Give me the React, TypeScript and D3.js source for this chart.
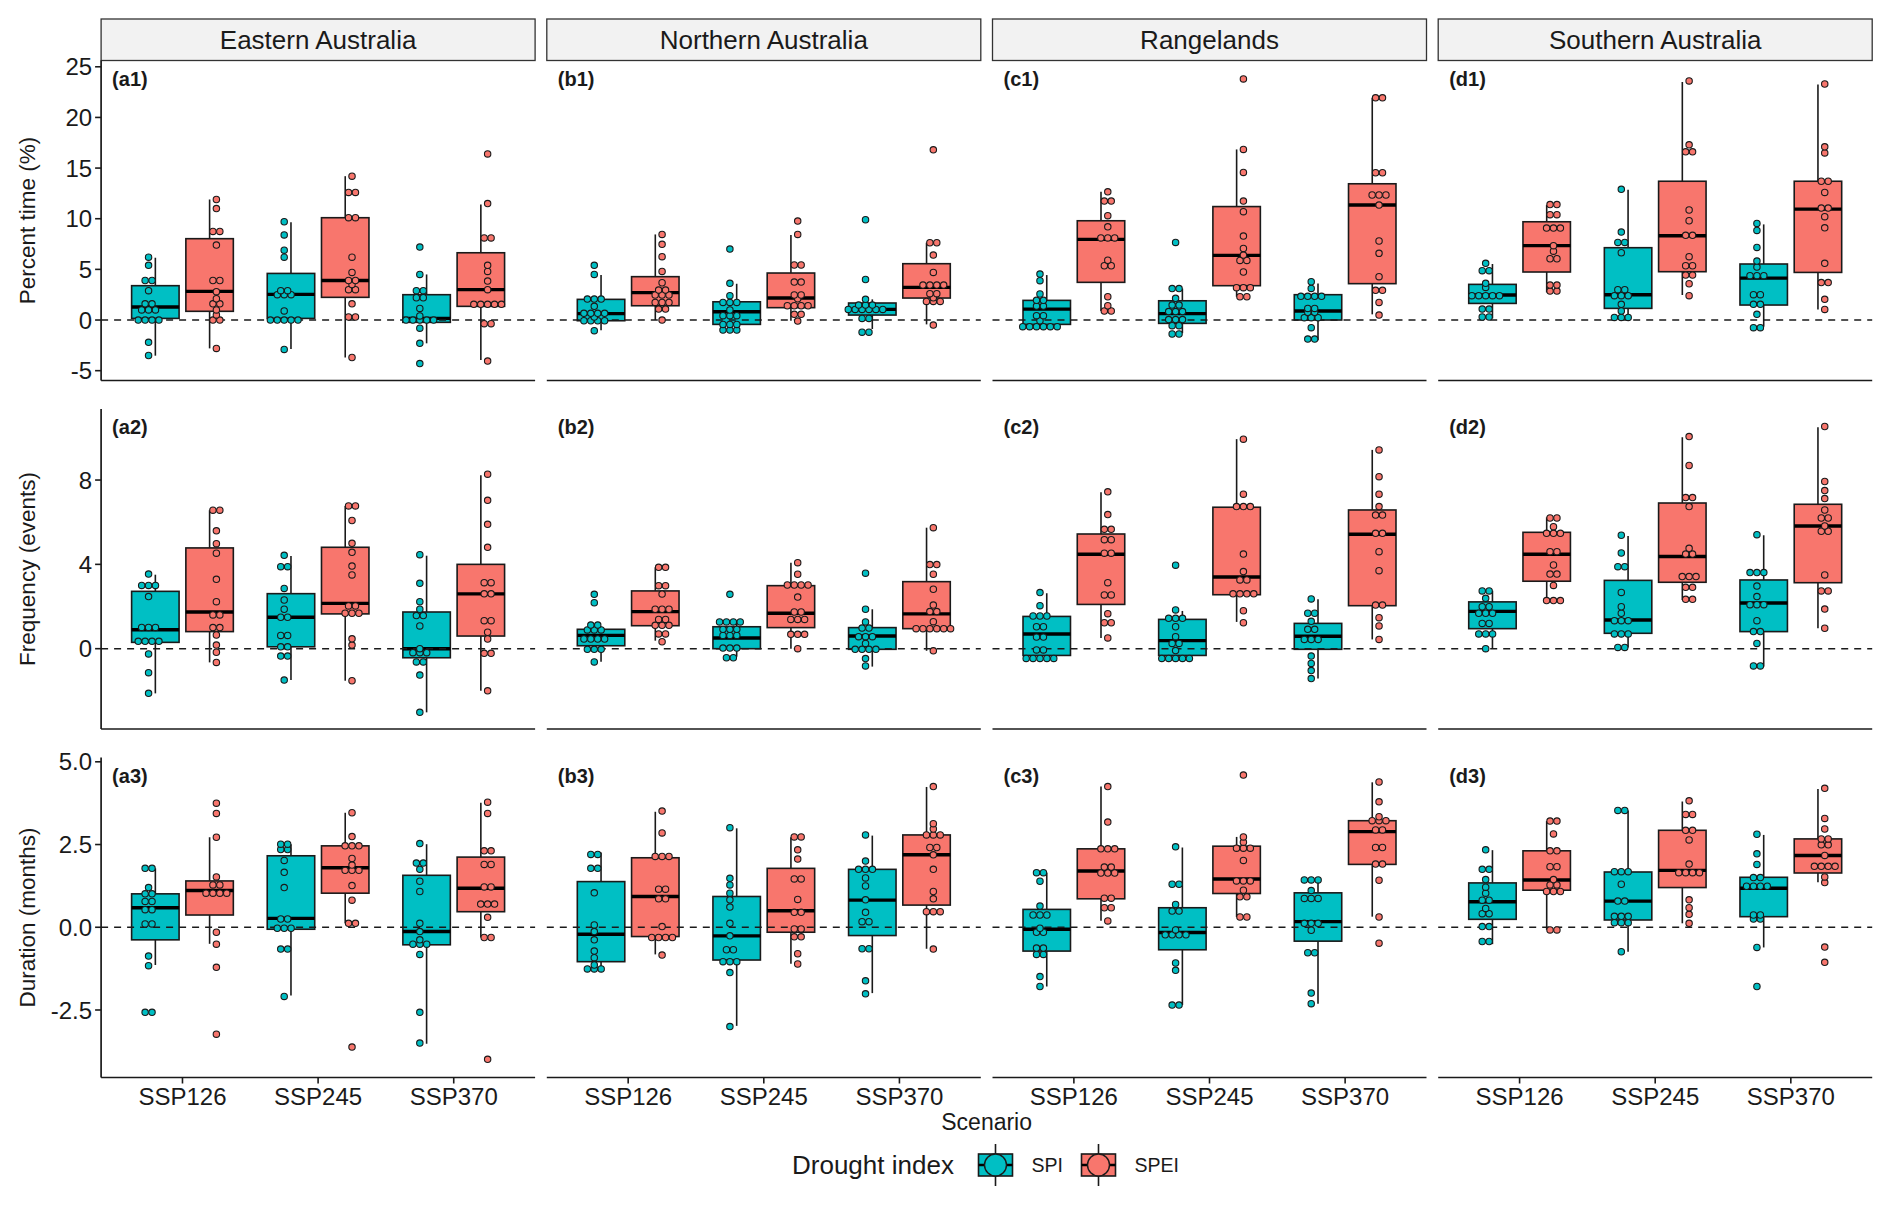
import * as React from 'react';
import * as d3 from 'd3';

const regions = ['Eastern Australia', 'Northern Australia', 'Rangelands', 'Southern Australia'];
const scenarios = ['SSP126', 'SSP245', 'SSP370'];
const droughtIndices = ['SPI', 'SPEI'];
const indexColours = ['#00BFC4', '#F8766D'];
const metricTitles = ['Percent time (%)', 'Frequency (events)', 'Duration (months)'];
const rowTicks = [[-5, 0, 5, 10, 15, 20, 25], [0, 4, 8], [-2.5, 0, 2.5, 5]];
const rowDomains = [[-5.97, 25.62], [-3.81, 11.37], [-4.54, 5.13]];

// box stats per panel: [lower whisker, q1, median, q3, upper whisker]
// order: SSP126 SPI, SSP126 SPEI, SSP245 SPI, SSP245 SPEI, SSP370 SPI, SSP370 SPEI
const a1Boxes = [[-3.52, 0.16, 1.28, 3.39, 6.15], [-2.8, 0.86, 2.83, 8.03, 11.9], [-2.86, 0.16, 2.53, 4.6, 9.64], [-3.7, 2.24, 3.9, 10.1, 14.2], [-2.3, -0.23, 0.16, 2.5, 4.5], [-3.95, 1.35, 3.0, 6.64, 11.4]];
const b1Boxes = [[-1.0, -0.07, 0.63, 2.04, 4.44], [0, 1.41, 2.7, 4.28, 8.45], [-1.0, -0.43, 0.82, 1.8, 3.58], [-0.07, 1.22, 2.17, 4.64, 8.4], [-0.89, 0.49, 1.05, 1.68, 2.04], [-0.43, 2.17, 3.22, 5.56, 7.63]];
const c1Boxes = [[-0.66, -0.43, 1.08, 1.94, 4.44], [0.89, 3.72, 7.96, 9.8, 12.66], [-1.3, -0.33, 0.63, 1.9, 3.1], [2.3, 3.39, 6.38, 11.2, 16.84], [-2.0, 0, 0.89, 2.5, 3.6], [0.56, 3.59, 11.35, 13.45, 21.94]];
const d1Boxes = [[0.16, 1.64, 2.47, 3.52, 5.53], [2.73, 4.74, 7.34, 9.7, 11.35], [0.16, 1.15, 2.5, 7.14, 12.86], [2.47, 4.77, 8.32, 13.7, 23.5], [-0.66, 1.48, 4.14, 5.53, 9.44], [1.05, 4.7, 10.95, 13.7, 23.26]];

const a2Boxes = [[-2.12, 0.3, 0.9, 2.72, 3.51], [-0.65, 0.81, 1.74, 4.78, 6.57], [-1.49, 0.09, 1.49, 2.61, 4.4], [-1.52, 1.65, 2.15, 4.81, 6.77], [-3.02, -0.43, 0, 1.74, 4.41], [-2.0, 0.6, 2.6, 4.0, 8.23]];
const b2Boxes = [[-0.62, 0.14, 0.63, 0.92, 1.04], [0.38, 1.09, 1.76, 2.74, 3.86], [-0.38, 0, 0.51, 1.04, 1.23], [0, 1.0, 1.68, 2.99, 4.08], [-0.85, -0.03, 0.6, 1.0, 1.87], [-0.1, 0.95, 1.65, 3.18, 5.74]];
const c2Boxes = [[-0.47, -0.32, 0.7, 1.53, 2.63], [0.51, 2.1, 4.48, 5.44, 7.42], [-0.47, -0.32, 0.38, 1.39, 1.79], [1.27, 2.56, 3.4, 6.71, 9.94], [-1.41, -0.03, 0.59, 1.2, 2.34], [0.44, 2.04, 5.43, 6.58, 9.43]];
const d2Boxes = [[0, 0.95, 1.77, 2.22, 2.75], [2.26, 3.2, 4.48, 5.52, 6.23], [0.06, 0.73, 1.36, 3.24, 5.35], [2.31, 3.15, 4.37, 6.91, 10.03], [-0.85, 0.81, 2.17, 3.26, 5.38], [0.97, 3.13, 5.82, 6.85, 10.5]];

const a3Boxes = [[-1.14, -0.38, 0.59, 1.01, 1.78], [-0.5, 0.37, 1.11, 1.4, 2.72], [-2.06, -0.06, 0.27, 2.16, 2.51], [0.12, 1.03, 1.8, 2.46, 3.46], [-3.52, -0.53, -0.13, 1.57, 2.51], [-0.31, 0.47, 1.18, 2.12, 3.76]];
const b3Boxes = [[-1.24, -1.04, -0.21, 1.38, 2.26], [-0.82, -0.28, 0.93, 2.1, 3.49], [-2.98, -0.99, -0.26, 0.93, 2.99], [-1.1, -0.15, 0.5, 1.78, 2.72], [-1.99, -0.25, 0.82, 1.75, 2.77], [-0.65, 0.67, 2.19, 2.79, 4.24]];
const c3Boxes = [[-1.79, -0.72, -0.06, 0.54, 1.65], [0.2, 0.86, 1.7, 2.37, 4.25], [-2.35, -0.68, -0.16, 0.59, 2.41], [0.31, 1.02, 1.46, 2.45, 2.73], [-2.31, -0.42, 0.17, 1.04, 1.43], [0.32, 1.9, 2.89, 3.22, 4.38]];
const d3Boxes = [[-0.51, 0.24, 0.77, 1.34, 2.33], [-0.08, 1.12, 1.43, 2.31, 3.21], [-0.74, 0.22, 0.79, 1.67, 3.53], [0.12, 1.2, 1.72, 2.93, 3.8], [-0.61, 0.32, 1.18, 1.51, 2.79], [1.36, 1.64, 2.17, 2.67, 4.18]];

// model values (dots), same order as the boxes
const a1Points = [
  [6.2, 5.4, 3.9, 3.9, 2.9, 1.6, 1.6, 1.0, 1.0, 1.0, 0, 0, 0, 0, -2.2, -3.5],
  [11.9, 11.0, 8.75, 8.75, 7.4, 3.9, 3.9, 2.8, 2.1, 1.6, 1.6, 1.0, 0.5, 0, 0, -2.8],
  [9.7, 8.4, 6.9, 6.2, 2.9, 2.9, 2.5, 2.5, 2.5, 0.9, 0, 0, 0, 0, 0, -2.9],
  [14.2, 12.6, 12.6, 10.1, 10.1, 6.2, 4.7, 3.9, 3.9, 3.5, 3.0, 3.0, 1.6, 0.3, 0.3, -3.7],
  [7.2, 4.5, 2.9, 2.9, 2.2, 2.2, 1.15, 0.4, 0, 0, 0, 0, 0, -0.8, -2.3, -4.3],
  [16.4, 11.5, 8.1, 8.1, 5.4, 4.8, 3.85, 3.0, 1.6, 1.6, 1.6, 1.6, 1.5, -0.36, -0.36, -4.05],
];
const b1Points = [
  [5.4, 4.5, 2.07, 2.07, 2.07, 1.35, 0.66, 0.66, 0.66, 0.66, 0.3, -0.07, -0.07, -0.07, -0.07, -1.05],
  [8.45, 7.47, 6.25, 4.8, 3.68, 2.96, 2.96, 2.47, 2.47, 2.47, 1.74, 1.74, 1.74, 1.08, 1.08, 0],
  [7.0, 3.62, 2.4, 1.74, 1.74, 1.74, 0.99, 0.56, 0.56, 0.3, -0.43, -0.43, -0.43, -0.99, -0.99, -0.99],
  [9.77, 8.45, 5.43, 5.43, 3.75, 3.75, 2.47, 2.47, 2.1, 1.41, 1.41, 1.41, 1.41, 0.56, 0.56, -0.1],
  [9.9, 4.0, 2.04, 1.48, 1.48, 1.48, 1.2, 0.89, 0.89, 0.89, 0.89, 0.89, 0.16, 0.16, -1.2, -1.2],
  [16.8, 7.63, 7.63, 6.41, 4.7, 3.45, 3.45, 3.45, 3.45, 2.6, 2.6, 2.2, 1.84, 1.84, 1.84, -0.5],
];
const c1Points = [
  [4.54, 3.88, 2.57, 1.94, 1.94, 1.38, 1.38, 0.43, 0.43, -0.07, -0.66, -0.66, -0.66, -0.66, -0.66, -0.66],
  [12.66, 11.74, 11.74, 10.3, 9.2, 8.1, 8.1, 8.1, 5.9, 5.36, 5.36, 2.3, 1.41, 0.89, 0.89],
  [7.66, 3.1, 3.1, 2.14, 1.48, 1.48, 1.0, 0.66, 0.66, 0.16, -0.07, -0.07, -0.56, -0.56, -1.38, -1.38],
  [23.8, 16.84, 14.57, 11.74, 10.7, 8.29, 7.07, 6.41, 6.0, 5.76, 4.74, 3.19, 3.19, 3.19, 2.3, 2.3],
  [3.78, 3.12, 2.34, 2.34, 2.34, 2.34, 1.15, 1.15, 0.76, 0.76, 0.23, 0.23, 0.23, -0.76, -1.88, -1.88],
  [21.94, 21.94, 14.54, 14.54, 12.34, 12.34, 12.34, 11.35, 7.8, 6.58, 4.28, 2.93, 2.93, 1.74, 0.49],
];
const d1Points = [
  [5.6, 4.87, 4.87, 3.62, 3.22, 2.4, 2.4, 2.4, 2.4, 2.4, 1.08, 1.08, 0.3, 0.3],
  [11.4, 11.4, 10.4, 10.4, 9.08, 9.08, 9.08, 7.34, 6.8, 6.05, 6.05, 3.45, 3.45, 2.86, 2.86],
  [12.9, 8.68, 7.66, 7.66, 6.64, 3.0, 3.0, 2.4, 2.4, 2.4, 1.55, 0.89, 0.26, 0.26, 0.26],
  [23.6, 17.3, 16.6, 16.6, 10.86, 9.8, 8.36, 8.36, 6.25, 5.36, 5.36, 4.44, 4.44, 3.58, 2.4],
  [9.54, 8.85, 7.17, 5.82, 5.23, 4.38, 4.38, 4.38, 2.5, 2.5, 1.55, 1.55, 0.56, -0.76, -0.76],
  [23.3, 17.1, 16.5, 13.7, 13.7, 12.6, 11.05, 11.05, 10.2, 9.1, 5.6, 3.7, 3.7, 2.04, 1.05],
];

const a2Points = [
  [3.54, 3.0, 3.0, 3.0, 2.47, 1.01, 1.01, 1.01, 0.35, 0.35, 0.35, 0.35, -0.25, -1.14, -2.12],
  [6.57, 6.57, 5.59, 4.98, 4.53, 3.29, 2.23, 1.6, 1.6, 1.0, 1.0, 0.65, 0.17, -0.17, -0.65],
  [4.43, 3.89, 3.89, 2.86, 2.31, 1.87, 1.49, 1.49, 0.63, 0.63, 0.09, 0.09, -0.35, -0.35, -1.49],
  [6.77, 6.77, 6.08, 5.0, 4.57, 3.92, 3.5, 2.03, 2.03, 1.68, 1.68, 1.68, 0.47, 0.17, -1.52],
  [4.46, 3.1, 2.23, 1.87, 1.57, 1.57, 1.08, 0, -0.19, -0.19, -0.19, -0.63, -0.63, -1.25, -3.02],
  [8.28, 7.04, 5.9, 4.81, 3.13, 3.13, 2.6, 2.6, 1.33, 1.33, 0.78, 0.46, -0.22, -0.22, -2.0],
];
const b2Points = [
  [2.58, 2.18, 1.12, 1.12, 0.89, 0.89, 0.89, 0.46, 0.46, 0.46, 0.46, -0.03, -0.03, -0.03, -0.63],
  [3.86, 3.86, 2.99, 2.99, 2.59, 1.87, 1.87, 1.87, 1.39, 1.39, 1.11, 1.11, 1.11, 0.7, 0.7, 0.33],
  [2.58, 1.27, 1.27, 1.27, 1.27, 0.92, 0.92, 0.92, 0.63, 0.63, 0.63, 0.03, 0.03, 0.03, -0.43, -0.43],
  [4.08, 3.53, 3.02, 3.02, 3.02, 3.02, 2.45, 1.74, 1.74, 1.39, 1.39, 1.39, 0.68, 0.68, 0.68, 0],
  [3.58, 1.87, 1.27, 0.98, 0.98, 0.57, 0.57, 0.57, 0.25, -0.03, -0.03, -0.03, -0.03, -0.47, -0.82],
  [5.74, 3.99, 3.99, 3.53, 2.82, 2.07, 1.76, 1.76, 1.28, 0.95, 0.95, 0.95, 0.95, 0.95, 0.95, -0.1],
];
const c2Points = [
  [2.66, 2.04, 1.55, 1.55, 1.55, 1.04, 1.04, 0.55, 0.55, -0.06, -0.06, -0.46, -0.46, -0.46, -0.46, -0.46],
  [7.44, 6.36, 5.66, 5.66, 5.17, 5.17, 4.53, 4.53, 3.13, 2.55, 2.55, 1.66, 1.23, 1.23, 0.51],
  [3.96, 1.84, 1.44, 1.44, 1.44, 1.04, 0.57, 0.25, 0.25, -0.09, -0.46, -0.46, -0.46, -0.46, -0.46],
  [9.94, 7.33, 6.74, 6.74, 6.74, 4.49, 3.66, 3.26, 3.26, 2.6, 2.6, 2.6, 2.6, 1.8, 1.23],
  [2.36, 1.68, 1.68, 1.3, 0.92, 0.92, 0.44, 0.44, 0.44, -0.35, -0.7, -1.04, -1.42],
  [9.43, 8.16, 7.33, 6.74, 6.34, 6.34, 5.47, 5.47, 4.6, 3.7, 2.07, 2.07, 1.47, 1.08, 0.44],
];
const d2Points = [
  [2.74, 2.74, 2.39, 1.99, 1.99, 1.68, 1.68, 1.68, 1.2, 1.2, 0.7, 0.7, 0.7, 0],
  [6.2, 6.2, 5.79, 5.47, 5.47, 5.47, 4.6, 4.6, 3.97, 3.54, 3.54, 3.0, 2.28, 2.28, 2.28],
  [5.38, 4.54, 3.89, 3.89, 2.67, 1.99, 1.68, 1.33, 1.33, 1.33, 0.7, 0.7, 0.7, 0.06, 0.06],
  [10.06, 8.69, 7.17, 7.17, 6.74, 4.76, 4.49, 4.49, 3.42, 3.42, 3.42, 2.91, 2.91, 2.34, 2.34],
  [5.41, 3.61, 3.61, 3.61, 2.97, 2.47, 2.09, 2.09, 2.09, 1.33, 0.81, 0.81, 0.25, -0.82, -0.82],
  [10.54, 7.93, 7.5, 7.12, 6.58, 6.2, 6.2, 5.82, 5.57, 5.57, 3.5, 2.74, 2.74, 1.88, 0.97],
];

const a3Points = [
  [1.78, 1.78, 1.2, 1.01, 1.01, 0.78, 0.78, 0.53, 0.53, 0.1, 0.1, -0.87, -1.16, -2.57, -2.57],
  [3.75, 3.44, 2.72, 1.52, 1.28, 1.28, 1.03, 1.03, 1.03, 1.03, -0.15, -0.51, -1.21, -3.23],
  [2.51, 2.51, 2.35, 2.35, 2.02, 1.66, 1.2, 0.25, 0.25, -0.03, -0.03, -0.03, -0.66, -0.66, -2.09],
  [3.46, 2.74, 2.46, 2.46, 2.46, 2.08, 1.88, 1.72, 1.72, 1.72, 1.26, 0.82, 0.12, 0.12, -3.62],
  [2.53, 1.94, 1.94, 1.75, 1.39, 1.08, 0.12, -0.13, -0.38, -0.51, -0.51, -0.51, -0.82, -2.57, -3.5],
  [3.78, 3.44, 2.31, 2.31, 1.9, 1.9, 1.22, 1.22, 0.7, 0.7, 0.7, 0.3, -0.31, -0.31, -3.99],
];
const b3Points = [
  [2.2, 2.2, 1.78, 1.78, 1.04, 0.07, -0.13, -0.38, -0.72, -0.92, -1.14, -1.26, -1.26, -1.26],
  [3.51, 2.85, 2.14, 2.14, 2.14, 1.15, 1.15, 0.86, 0.86, 0.02, -0.31, -0.31, -0.31, -0.31, -0.84],
  [3.01, 1.48, 1.28, 1.03, 0.83, 0.61, 0.12, -0.26, -0.68, -0.68, -0.99, -1.09, -1.09, -1.37, -3.0],
  [2.73, 2.73, 2.34, 2.06, 1.46, 1.46, 0.84, 0.45, 0.45, -0.05, -0.05, -0.29, -0.29, -0.8, -1.11],
  [2.79, 2.0, 1.75, 1.75, 1.75, 1.49, 1.25, 0.83, 0.45, 0.17, 0.17, -0.65, -0.65, -1.62, -2.01],
  [4.25, 3.13, 2.97, 2.79, 2.79, 2.79, 2.41, 2.41, 2.19, 1.75, 1.08, 0.86, 0.47, 0.47, 0.47, -0.66],
];
const c3Points = [
  [1.65, 1.65, 1.39, 0.64, 0.37, 0.37, 0.37, -0.03, -0.15, -0.15, -0.63, -0.63, -0.82, -0.82, -1.49, -1.79],
  [4.25, 3.18, 2.37, 2.37, 2.37, 1.82, 1.82, 1.64, 1.64, 1.64, 0.88, 0.88, 0.59, 0.59, 0.19],
  [2.43, 1.3, 1.3, 0.69, 0.49, 0.49, -0.08, -0.23, -0.23, -0.23, -0.23, -1.08, -1.3, -2.35, -2.35],
  [4.6, 2.73, 2.57, 2.39, 2.39, 2.39, 2.02, 1.4, 1.4, 1.4, 1.12, 0.92, 0.92, 0.31, 0.31],
  [1.43, 1.43, 1.43, 1.11, 0.87, 0.87, 0.87, 0.12, 0.12, 0.12, -0.09, -0.77, -0.77, -1.99, -2.31],
  [4.39, 3.79, 3.34, 3.22, 3.22, 3.22, 2.94, 2.94, 2.41, 2.41, 1.91, 1.91, 1.42, 0.31, -0.48],
];
const d3Points = [
  [2.34, 1.75, 1.75, 1.44, 1.21, 1.03, 0.82, 0.82, 0.57, 0.41, 0.41, 0.02, 0.02, -0.43, -0.43],
  [3.21, 3.21, 2.82, 2.31, 2.31, 1.83, 1.83, 1.44, 1.28, 1.28, 1.08, 1.08, 1.08, -0.08, -0.08],
  [3.53, 3.53, 1.68, 1.68, 1.68, 1.3, 0.79, 0.79, 0.33, 0.33, 0.33, 0.14, 0.14, 0.14, -0.74],
  [3.82, 3.41, 3.41, 2.93, 2.93, 2.64, 1.91, 1.65, 1.65, 1.65, 1.65, 0.83, 0.59, 0.39, 0.12],
  [2.81, 2.22, 1.9, 1.5, 1.5, 1.24, 1.24, 1.24, 1.24, 0.37, 0.37, 0.25, 0.25, -0.61, -1.79],
  [4.2, 3.29, 2.97, 2.67, 2.67, 2.49, 2.49, 2.17, 1.84, 1.84, 1.84, 1.84, 1.52, 1.35, -0.6, -1.06],
];

const boxRows = [[a1Boxes, b1Boxes, c1Boxes, d1Boxes], [a2Boxes, b2Boxes, c2Boxes, d2Boxes], [a3Boxes, b3Boxes, c3Boxes, d3Boxes]];
const pointRows = [[a1Points, b1Points, c1Points, d1Points], [a2Points, b2Points, c2Points, d2Points], [a3Points, b3Points, c3Points, d3Points]];

const W = 1892;
const H = 1206;
const panelLeft0 = 101.1;
const panelStep = 445.7;
const panelW = 434;
const rowTop0 = 60.5;
const rowStep = 348.5;
const panelH = 320;
const font = 'Liberation Sans, Arial, sans-serif';
const ink = '#1a1a1a';

// dotdensity-like binning along y, dots in a bin are stacked side by side
function binDots(values: number[], width: number) {
  const sorted = [...values].sort((a, b) => a - b);
  const bins: { y: number; n: number }[] = [];
  let i = 0;
  while (i < sorted.length) {
    let j = i;
    while (j < sorted.length && sorted[j] - sorted[i] < width) j++;
    bins.push({ y: (sorted[i] + sorted[j - 1]) / 2, n: j - i });
    i = j;
  }
  return bins;
}

function Panel({ row, col }: { row: number; col: number }) {
  const left = panelLeft0 + col * panelStep;
  const top = rowTop0 + row * rowStep;
  const x = d3.scalePoint<string>().domain(scenarios).range([left, left + panelW]).padding(0.6);
  const step = x.step();
  const y = d3.scaleLinear().domain(rowDomains[row]).range([top + panelH, top]);
  const binW = Math.abs(y.invert(0) - y.invert(3.5));
  const boxes = boxRows[row][col];
  const points = pointRows[row][col];
  const halfBox = 0.175 * step;
  const baseFmt = row === 2 ? d3.format('.1f') : d3.format('d');
  const fmt = (v: number) => baseFmt(v).replace('\u2212', '-');

  return (
    <g>
      {row === 0 && (
        <g>
          <rect x={left} y={19} width={panelW} height={41.5} fill="#F2F2F2" stroke="#333" strokeWidth={1.3} />
          <text x={left + panelW / 2} y={49} textAnchor="middle" fontSize={26} fontFamily={font} fill={ink}>
            {regions[col]}
          </text>
        </g>
      )}
      {/* boxes */}
      {boxes.map((b, k) => {
        const s = Math.floor(k / 2);
        const ix = k % 2;
        const cx = (x(scenarios[s]) as number) + (ix === 0 ? -0.2 : 0.2) * step;
        const [lo, q1, med, q3, hi] = b;
        return (
          <g key={k}>
            <line x1={cx} x2={cx} y1={y(q3)} y2={y(hi)} stroke={ink} strokeWidth={1.6} />
            <line x1={cx} x2={cx} y1={y(q1)} y2={y(lo)} stroke={ink} strokeWidth={1.6} />
            <rect x={cx - halfBox} y={y(q3)} width={2 * halfBox} height={y(q1) - y(q3)}
              fill={indexColours[ix]} stroke={ink} strokeWidth={1.6} />
            <line x1={cx - halfBox} x2={cx + halfBox} y1={y(med)} y2={y(med)} stroke="#000" strokeWidth={3.4} />
          </g>
        );
      })}
      <line x1={left} x2={left + panelW} y1={y(0)} y2={y(0)} stroke={ink} strokeWidth={1.5} strokeDasharray="7,6" />
      {/* dots */}
      {points.map((vals, k) => {
        const s = Math.floor(k / 2);
        const ix = k % 2;
        const cx = (x(scenarios[s]) as number) + (ix === 0 ? -0.25 : 0.25) * step;
        return binDots(vals, binW).map((bin, bi) =>
          d3.range(bin.n).map((m) => (
            <circle key={`${k}-${bi}-${m}`} cx={cx + (m - (bin.n - 1) / 2) * 6.9} cy={y(bin.y)} r={3.2}
              fill={indexColours[ix]} stroke={ink} strokeWidth={1.1} />
          ))
        );
      })}
      {/* tag */}
      <text x={left + 11} y={top + 25} fontSize={20} fontWeight="bold" fontFamily={font} fill={ink}>
        {`(${'abcd'[col]}${row + 1})`}
      </text>
      {/* bottom axis */}
      <line x1={left} x2={left + panelW} y1={top + panelH} y2={top + panelH} stroke={ink} strokeWidth={1.7} />
      {row === 2 && scenarios.map((sc) => (
        <g key={sc}>
          <line x1={x(sc)} x2={x(sc)} y1={top + panelH} y2={top + panelH + 6} stroke={ink} strokeWidth={1.6} />
          <text x={x(sc)} y={top + panelH + 27} textAnchor="middle" fontSize={24} fontFamily={font} fill={ink}>{sc}</text>
        </g>
      ))}
      {/* left axis */}
      {col === 0 && (
        <g>
          <line x1={left} x2={left} y1={top} y2={top + panelH} stroke={ink} strokeWidth={1.7} />
          {rowTicks[row].map((t) => (
            <g key={t}>
              <line x1={left - 6} x2={left} y1={y(t)} y2={y(t)} stroke={ink} strokeWidth={1.6} />
              <text x={left - 9} y={y(t)} dy="0.36em" textAnchor="end" fontSize={24} fontFamily={font} fill={ink}>
                {fmt(t)}
              </text>
            </g>
          ))}
          <text transform={`translate(27,${top + panelH / 2}) rotate(-90)`} textAnchor="middle" dy="0.36em"
            fontSize={22.5} fontFamily={font} fill={ink}>
            {metricTitles[row]}
          </text>
        </g>
      )}
    </g>
  );
}

function LegendKey({ cx, cy, colour }: { cx: number; cy: number; colour: string }) {
  return (
    <g>
      <line x1={cx} x2={cx} y1={cy - 21} y2={cy + 21} stroke={ink} strokeWidth={1.6} />
      <rect x={cx - 17} y={cy - 11} width={34} height={22} fill={colour} stroke={ink} strokeWidth={1.6} />
      <line x1={cx - 17} x2={cx + 17} y1={cy} y2={cy} stroke="#000" strokeWidth={2.5} />
      <circle cx={cx} cy={cy} r={11} fill={colour} stroke={ink} strokeWidth={1.4} />
    </g>
  );
}

export default function App() {
  const cells: [number, number][] = [];
  for (let r = 0; r < 3; r++) for (let c = 0; c < 4; c++) cells.push([r, c]);
  const legendY = 1165;
  return (
    <svg width={W} height={H} style={{ position: 'absolute', left: 0, top: 0, background: '#fff' }}>
      <rect width={W} height={H} fill="#fff" />
      {cells.map(([r, c]) => <Panel key={`${r}-${c}`} row={r} col={c} />)}
      <text x={panelLeft0 + (3 * panelStep + panelW) / 2} y={1130} textAnchor="middle" fontSize={23} fontFamily={font} fill={ink}>
        Scenario
      </text>
      <text x={792} y={legendY} dy="0.36em" fontSize={26} fontFamily={font} fill={ink}>Drought index</text>
      {droughtIndices.map((d, i) => {
        const kx = i === 0 ? 995.5 : 1098.5;
        return (
          <g key={d}>
            <LegendKey cx={kx} cy={legendY} colour={indexColours[i]} />
            <text x={kx + 36} y={legendY} dy="0.36em" fontSize={19.5} fontFamily={font} fill={ink}>{d}</text>
          </g>
        );
      })}
    </svg>
  );
}
